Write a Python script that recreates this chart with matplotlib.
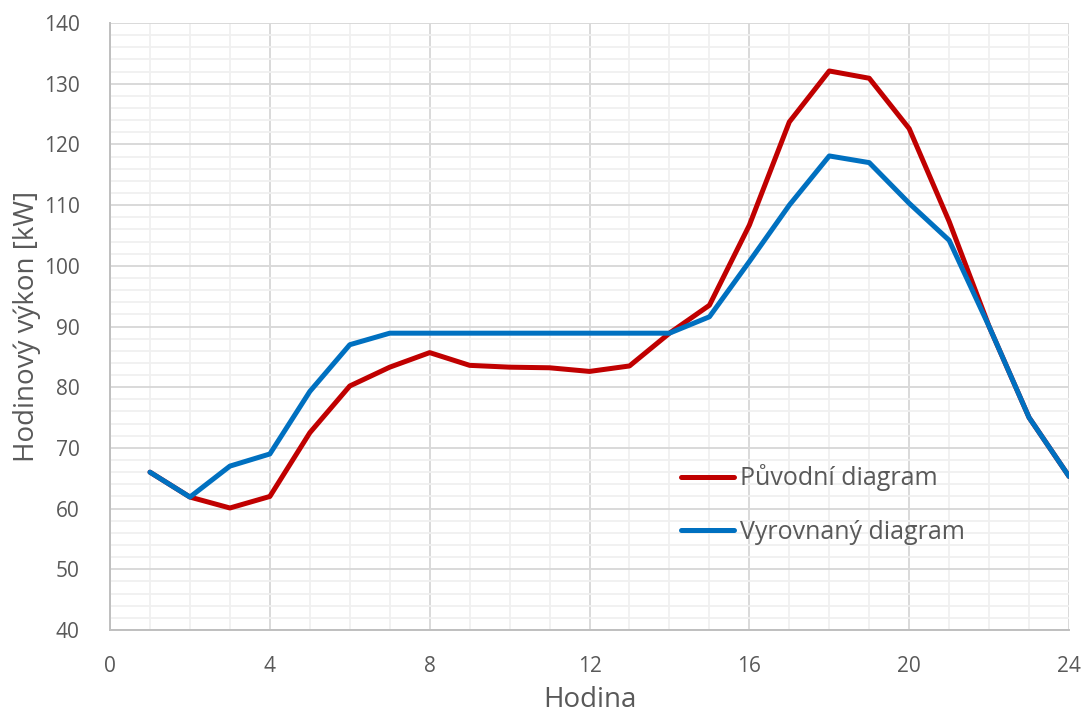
import matplotlib
matplotlib.use("Agg")
import matplotlib.pyplot as plt
from matplotlib.ticker import MultipleLocator

plt.rcParams['font.family'] = ['Open Sans', 'DejaVu Sans']

hours = list(range(1, 25))
puvodni = [66.0, 61.9, 60.1, 62.0, 72.5, 80.2, 83.3, 85.7, 83.6, 83.3, 83.2, 82.6,
           83.5, 88.9, 93.5, 106.7, 123.7, 132.1, 130.9, 122.6, 107.3, 90.0, 75.0, 65.3]
vyrovnany = [66.0, 61.9, 67.0, 69.0, 79.3, 87.0, 88.9, 88.9, 88.9, 88.9, 88.9, 88.9,
             88.9, 88.9, 91.6, 100.7, 110.0, 118.1, 117.0, 110.3, 104.2, 90.0, 75.0, 65.3]
series_names = ["Původní diagram", "Vyrovnaný diagram"]
x_label = "Hodina"
y_label = "Hodinový výkon [kW]"

text_color = "#595959"

fig = plt.figure(figsize=(10.83, 7.15), dpi=100)
ax = fig.add_axes([0.1016, 0.1189, 0.8855, 0.8489])

ax.plot(hours, puvodni, color="#C00000", lw=3.6, solid_capstyle="round",
        solid_joinstyle="round", label=series_names[0], zorder=3)
ax.plot(hours, vyrovnany, color="#0070C0", lw=3.6, solid_capstyle="round",
        solid_joinstyle="round", label=series_names[1], zorder=4)

ax.set_xlim(0, 24)
ax.set_ylim(40, 140)
ax.xaxis.set_major_locator(MultipleLocator(4))
ax.xaxis.set_minor_locator(MultipleLocator(1))
ax.yaxis.set_major_locator(MultipleLocator(10))
ax.yaxis.set_minor_locator(MultipleLocator(2))

ax.grid(which="minor", color="#F0F0F0", lw=1.3, zorder=0)
ax.grid(which="major", color="#D9D9D9", lw=1.4, zorder=1)
ax.set_axisbelow(True)

for side in ("top", "right"):
    ax.spines[side].set_visible(False)
for side in ("left", "bottom"):
    ax.spines[side].set_color("#BFBFBF")
    ax.spines[side].set_linewidth(1.4)

ax.tick_params(which="both", length=0)
ax.tick_params(axis="y", pad=22, labelsize=15, labelcolor=text_color)
ax.tick_params(axis="x", pad=19, labelsize=15, labelcolor=text_color)

ax.set_xlabel(x_label, fontsize=20, color=text_color, labelpad=6)
ax.set_ylabel(y_label, fontsize=20, color=text_color, labelpad=2)

leg = ax.legend(loc="upper left", bbox_to_anchor=(0.572, 0.31), frameon=False,
                fontsize=18, handlelength=2.1, handletextpad=0.25,
                labelspacing=1.15, labelcolor=text_color)

fig.savefig("out.png", dpi=100)
